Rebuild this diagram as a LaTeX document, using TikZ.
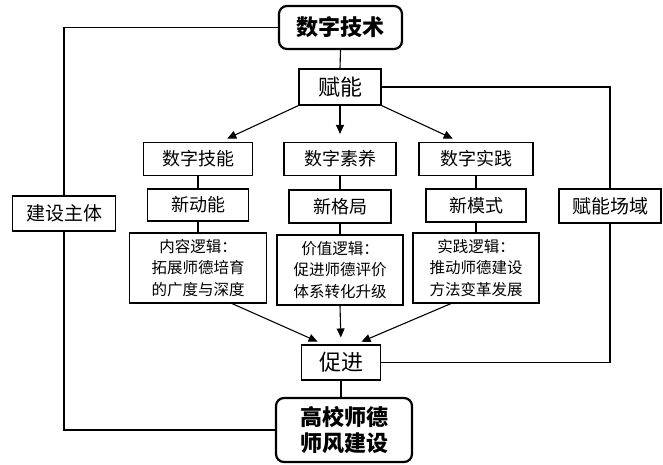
\documentclass[tikz,border=0pt]{standalone}
\usepackage{fontspec}
\newfontfamily\cjk{Noto Sans CJK SC}
\usetikzlibrary{arrows.meta,calc}
\tikzset{
  box/.style={draw=black, line width=1.1pt, fill=white, inner sep=0pt, align=center, font=\cjk\fontsize{18}{20}\selectfont},
  bigbox/.style={box, font=\cjk\fontsize{22}{24}\selectfont},
  logicbox/.style={box, font=\cjk\fontsize{15.5}{21.5}\selectfont},
  keybox/.style={draw=black, line width=2.2pt, rounded corners=8pt, fill=white, inner sep=0pt, align=center, font=\cjk\bfseries\fontsize{22}{26}\selectfont},
  link/.style={draw=black, line width=1.1pt},
  arr/.style={link, -{Triangle[length=9pt,width=8pt]}}
}
\begin{document}
\begin{tikzpicture}[x=1pt,y=-1pt]
\useasboundingbox (0,0) rectangle (663,465);
\node[keybox, minimum width=123pt, minimum height=43pt] (jishu) at (340.5,27.5) {数字技术};
\node[bigbox, minimum width=82pt, minimum height=36pt] (funeng) at (340,87) {赋能};
\node[box, minimum width=109pt, minimum height=33pt] (r1a) at (198,159) {数字技能};
\node[box, minimum width=112pt, minimum height=33pt] (r1b) at (340,159) {数字素养};
\node[box, minimum width=114pt, minimum height=33pt] (r1c) at (476,159) {数字实践};
\node[box, minimum width=101pt, minimum height=32pt] (r2a) at (198,205) {新动能};
\node[box, minimum width=102pt, minimum height=33pt] (r2b) at (340,206.5) {新格局};
\node[box, minimum width=100pt, minimum height=33pt] (r2c) at (476,205.5) {新模式};
\node[logicbox, minimum width=137pt, minimum height=70pt] (r3a) at (198,268) {内容逻辑：\\拓展师德培育\\的广度与深度};
\node[logicbox, minimum width=126pt, minimum height=70pt] (r3b) at (340,270) {价值逻辑：\\促进师德评价\\体系转化升级};
\node[logicbox, minimum width=126pt, minimum height=70pt] (r3c) at (476,268) {实践逻辑：\\推动师德建设\\方法变革发展};
\node[box, minimum width=103pt, minimum height=35pt, font=\cjk\fontsize{19}{21}\selectfont] (jianshe) at (64,213.5) {建设主体};
\node[box, minimum width=102pt, minimum height=34pt, font=\cjk\fontsize{19}{21}\selectfont] (changyu) at (610,206) {赋能场域};
\node[bigbox, minimum width=79pt, minimum height=35pt] (cujin) at (341,362.5) {促进};
\node[keybox, minimum width=136pt, minimum height=64pt] (gaoxiao) at (344,430) {高校师德\\师风建设};
% connectors
\draw[link] (jishu.south) -- (funeng.north);
\draw[link] (jishu.west) -| (jianshe.north);
\draw[link] (jianshe.south) |- (gaoxiao.west);
\draw[link] (funeng.east) -| (changyu.north);
\draw[link] (changyu.south) |- (cujin.east);
\draw[arr, shorten >=8pt] (funeng.south west) -- ($(r1a.north)+(22,0)$);
\draw[arr, shorten >=8pt] (funeng.south) -- (r1b.north);
\draw[arr, shorten >=8pt] (funeng.south east) -- ($(r1c.north)+(-16,0)$);
\draw[link] (r1a.south) -- (r2a.north);
\draw[link] (r2a.south) -- (r3a.north);
\draw[link] (r1b.south) -- (r2b.north);
\draw[link] (r2b.south) -- (r3b.north);
\draw[link] (r1c.south) -- (r2c.north);
\draw[link] (r2c.south) -- (r3c.north);
\draw[arr, shorten >=7pt] ($(r3a.south)+(34,0)$) -- ($(cujin.north)+(-17,0)$);
\draw[arr, shorten >=7pt] (r3b.south) -- (cujin.north);
\draw[arr, shorten >=7pt] ($(r3c.south)+(-25,0)$) -- ($(cujin.north)+(14,0)$);
\draw[link] (cujin.south) -- (cujin.south |- gaoxiao.north);
\end{tikzpicture}
\end{document}
